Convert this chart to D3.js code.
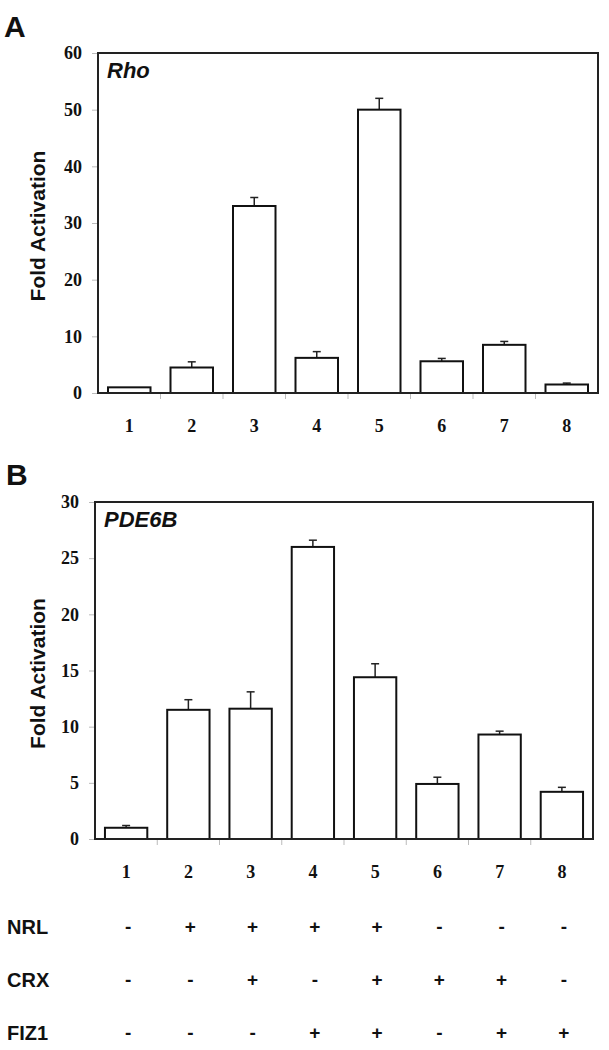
<!DOCTYPE html>
<html>
<head>
<meta charset="utf-8">
<script src="https://cdn.jsdelivr.net/npm/d3@7"></script>
<style>
  body { margin: 0; background: #fff; }
  svg { display: block; }
  .tick-label { font-family: 'Liberation Serif', 'Times New Roman', serif; font-weight: bold; font-size: 18px; fill: #111; }
  .sans { font-family: 'Liberation Sans', Arial, sans-serif; font-weight: bold; fill: #111; }
</style>
</head>
<body>
<svg id="chart" width="609" height="1050"></svg>
<script>
const lanes = ['1', '2', '3', '4', '5', '6', '7', '8']

const rhoValues = [1, 4.5, 33, 6.2, 50, 5.6, 8.5, 1.5]
const rhoErrors = [0, 1.0, 1.5, 1.1, 2.0, 0.5, 0.6, 0.25]
const rhoTicks = [0, 10, 20, 30, 40, 50, 60]

const pde6bValues = [1, 11.5, 11.6, 26, 14.4, 4.9, 9.3, 4.2]
const pde6bErrors = [0.2, 0.9, 1.5, 0.6, 1.2, 0.6, 0.3, 0.4]
const pde6bTicks = [0, 5, 10, 15, 20, 25, 30]

const constructs = ['NRL', 'CRX', 'FIZ1']
const nrlRow = ['-', '+', '+', '+', '+', '-', '-', '-']
const crxRow = ['-', '-', '+', '-', '+', '+', '+', '-']
const fiz1Row = ['-', '-', '-', '+', '+', '-', '+', '+']

const svg = d3.select('#chart')
const PAD = 0.32

/**
 * Draws one bar panel with frame, axes, bars and error bars.
 *
 * @param {object} cfg Panel settings (box, values, errors, ticks, labels)
 * @returns {*} The x scale of the panel
 */
function drawPanel (cfg) {
  const g = svg.append('g').attr('transform', `translate(${cfg.left}, ${cfg.top})`)
  const width = cfg.right - cfg.left
  const height = cfg.bottom - cfg.top

  const xScale = d3.scaleBand().domain(lanes).range([0, width])
    .paddingInner(PAD).paddingOuter(PAD / 2)
  const yScale = d3.scaleLinear().domain([0, d3.max(cfg.ticks)]).range([height, 0])

  // y axis: gray ticks, serif labels
  const yAxis = g.append('g')
    .call(d3.axisLeft(yScale).tickValues(cfg.ticks).tickSize(6).tickPadding(10))
  yAxis.select('.domain').remove()
  yAxis.selectAll('line').attr('stroke', '#bbb')
  yAxis.selectAll('text').attr('class', 'tick-label').attr('font-size', null).attr('font-family', null)

  // x labels
  const xAxis = g.append('g').attr('transform', `translate(0, ${height})`)
    .call(d3.axisBottom(xScale).tickSize(0).tickPadding(26))
  xAxis.select('.domain').remove()
  xAxis.selectAll('text').attr('class', 'tick-label').attr('font-size', null).attr('font-family', null)

  // boundary ticks under the x axis
  const step = xScale.step()
  g.selectAll('.xtick')
    .data(d3.range(1, lanes.length))
    .enter()
    .append('line')
    .attr('class', 'xtick')
    .attr('x1', i => xScale(lanes[i]) - step * PAD / 2)
    .attr('x2', i => xScale(lanes[i]) - step * PAD / 2)
    .attr('y1', height)
    .attr('y2', height + 6)
    .attr('stroke', '#bbb')

  const data = lanes.map((l, i) => ({ lane: l, value: cfg.values[i], error: cfg.errors[i] }))

  // error bars (upper only)
  const err = g.selectAll('.err').data(data.filter(d => d.error > 0)).enter().append('g')
  err.append('line')
    .attr('x1', d => xScale(d.lane) + xScale.bandwidth() / 2)
    .attr('x2', d => xScale(d.lane) + xScale.bandwidth() / 2)
    .attr('y1', d => yScale(d.value))
    .attr('y2', d => yScale(d.value + d.error))
    .attr('stroke', '#222').attr('stroke-width', 1.5)
  err.append('line')
    .attr('x1', d => xScale(d.lane) + xScale.bandwidth() / 2 - 4)
    .attr('x2', d => xScale(d.lane) + xScale.bandwidth() / 2 + 4)
    .attr('y1', d => yScale(d.value + d.error))
    .attr('y2', d => yScale(d.value + d.error))
    .attr('stroke', '#222').attr('stroke-width', 1.5)

  g.selectAll('.bar')
    .data(data)
    .enter()
    .append('rect')
    .attr('class', 'bar')
    .attr('x', d => xScale(d.lane))
    .attr('y', d => yScale(d.value))
    .attr('width', xScale.bandwidth())
    .attr('height', d => height - yScale(d.value))
    .attr('fill', '#fff')
    .attr('stroke', '#111')
    .attr('stroke-width', 2)

  // frame
  g.append('rect')
    .attr('width', width).attr('height', height)
    .attr('fill', 'none').attr('stroke', '#222').attr('stroke-width', 2)

  g.append('text')
    .attr('class', 'sans')
    .attr('x', 9).attr('y', 25)
    .attr('font-size', 22).attr('font-style', 'italic')
    .text(cfg.gene)

  g.append('text')
    .attr('class', 'sans')
    .attr('transform', `translate(${45 - cfg.left}, ${height / 2 + 3}) rotate(-90)`)
    .attr('text-anchor', 'middle')
    .attr('font-size', 21)
    .text('Fold Activation')

  svg.append('text')
    .attr('class', 'sans')
    .attr('x', cfg.letterX).attr('y', cfg.letterY)
    .attr('font-size', 30)
    .text(cfg.letter)

  return { xScale, left: cfg.left }
}

drawPanel({
  left: 98, right: 598, top: 53, bottom: 393,
  values: rhoValues, errors: rhoErrors, ticks: rhoTicks,
  gene: 'Rho', letter: 'A', letterX: 4, letterY: 37
})

const panelB = drawPanel({
  left: 95, right: 593, top: 502, bottom: 839,
  values: pde6bValues, errors: pde6bErrors, ticks: pde6bTicks,
  gene: 'PDE6B', letter: 'B', letterX: 6, letterY: 485
})

/**
 * Draws the +/- table of transfected constructs under panel B.
 */
function drawTable () {
  const rows = [nrlRow, crxRow, fiz1Row]
  const rowY = d3.scalePoint().domain(constructs).range([934, 1040])
  const x = panelB.xScale

  constructs.forEach((name, r) => {
    svg.append('text')
      .attr('class', 'sans')
      .attr('x', 7).attr('y', rowY(name))
      .attr('font-size', 20)
      .text(name)

    svg.selectAll(`.sign-${r}`)
      .data(rows[r])
      .enter()
      .append('text')
      .attr('class', `sans sign-${r}`)
      .attr('x', (d, i) => panelB.left + x(lanes[i]) + x.bandwidth() / 2 + 2)
      .attr('y', rowY(name) - 1)
      .attr('text-anchor', 'middle')
      .attr('font-size', 19)
      .text(d => d)
  })
}

drawTable()
</script>
</body>
</html>
